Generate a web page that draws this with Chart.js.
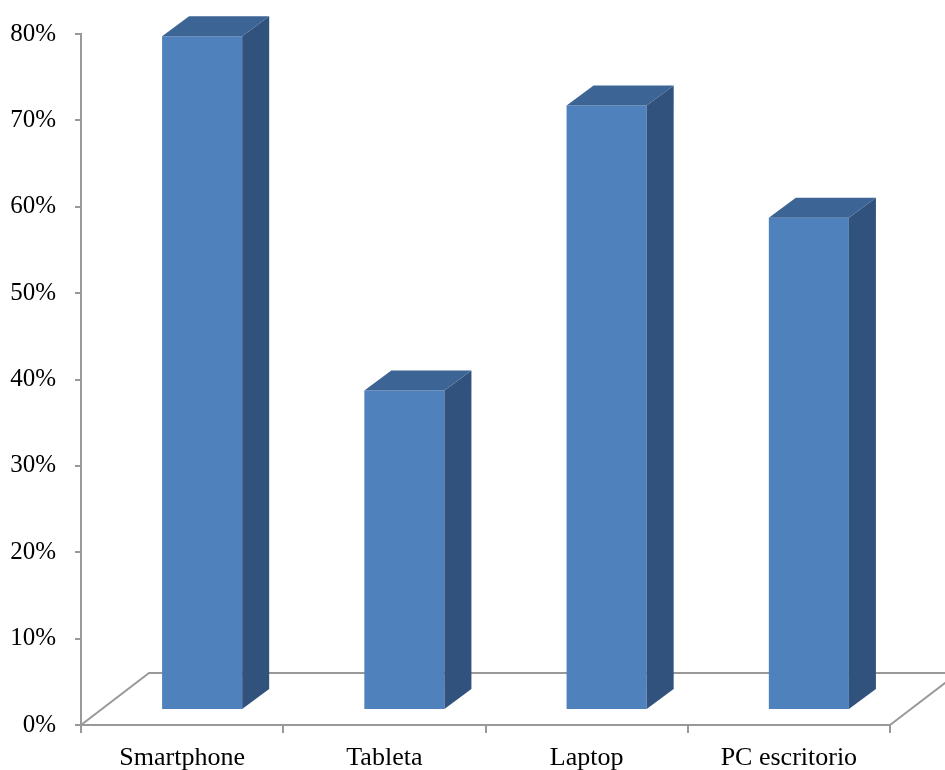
<!DOCTYPE html>
<html>
<head>
<meta charset="utf-8">
<script src="https://cdn.jsdelivr.net/npm/chart.js@4.4.1/dist/chart.umd.min.js"></script>
<style>
  body { margin: 0; background: #ffffff; }
  #wrap { width: 945px; height: 770px; }
</style>
</head>
<body>
<div id="wrap"><canvas id="chart" width="945" height="770"></canvas></div>
<script>
// values (percent)
const categories = ['Smartphone', 'Tableta', 'Laptop', 'PC escritorio'];
const shares = [78, 37, 70, 57];
const yTicks = [0, 10, 20, 30, 40, 50, 60, 70, 80];

const FRONT = '#4F81BD';
const TOP = '#3C6494';
const SIDE = '#32527E';
const LINE = '#999999';
const FONT = "'Liberation Serif', 'Times New Roman', serif";

// fake 3D: floor depth and bar depth (pixels)
const floorDepth = { dx: 68, dy: 52 };
const barShift = { dx: 20, dy: 15 };   // bars sit a bit behind the front edge
const barDepth = { dx: 27, dy: 20 };

const threeD = {
    id: 'threeD',
    beforeDatasetsDraw (chart) {
        const ctx = chart.ctx;
        const a = chart.chartArea;
        ctx.save();
        // floor outline (front edge is the x axis line)
        ctx.strokeStyle = LINE;
        ctx.lineWidth = 2;
        ctx.beginPath();
        ctx.moveTo(a.left, a.bottom);
        ctx.lineTo(a.left + floorDepth.dx, a.bottom - floorDepth.dy);
        ctx.lineTo(a.right + floorDepth.dx, a.bottom - floorDepth.dy);
        ctx.lineTo(a.right, a.bottom);
        ctx.stroke();
        // push the front faces back into the box
        ctx.translate(barShift.dx, -barShift.dy);
    },
    afterDatasetsDraw (chart) {
        const ctx = chart.ctx;
        chart.getDatasetMeta(0).data.forEach(function (bar) {
            const p = bar.getProps(['x', 'y', 'base', 'width'], true);
            const l = p.x - p.width / 2;
            const r = p.x + p.width / 2;
            // side face
            ctx.fillStyle = SIDE;
            ctx.beginPath();
            ctx.moveTo(r, p.y);
            ctx.lineTo(r + barDepth.dx, p.y - barDepth.dy);
            ctx.lineTo(r + barDepth.dx, p.base - barDepth.dy);
            ctx.lineTo(r, p.base);
            ctx.closePath();
            ctx.fill();
            // top face
            ctx.fillStyle = TOP;
            ctx.beginPath();
            ctx.moveTo(l, p.y);
            ctx.lineTo(l + barDepth.dx, p.y - barDepth.dy);
            ctx.lineTo(r + barDepth.dx, p.y - barDepth.dy);
            ctx.lineTo(r, p.y);
            ctx.closePath();
            ctx.fill();
        });
        ctx.restore();
    }
};

new Chart(document.getElementById('chart'), {
    type: 'bar',
    data: {
        labels: categories,
        datasets: [{
            data: shares,
            backgroundColor: FRONT,
            borderWidth: 0,
            categoryPercentage: 1,
            barPercentage: 0.396,
            clip: false
        }]
    },
    options: {
        responsive: false,
        animation: false,
        layout: { padding: { top: 33, right: 55, left: 0, bottom: 0 } },
        plugins: {
            legend: { display: false },
            tooltip: { enabled: false }
        },
        scales: {
            x: {
                grid: { display: true, drawOnChartArea: false, color: LINE, lineWidth: 2, tickLength: 8, offset: true },
                border: { display: true, color: LINE, width: 2 },
                ticks: { color: '#000000', font: { family: FONT, size: 26 }, padding: 10, maxRotation: 0 },
                afterFit (scale) { scale.height = 45; }
            },
            y: {
                min: 0,
                max: 80,
                afterBuildTicks (scale) { scale.ticks = yTicks.map(function (v) { return { value: v }; }); },
                grid: { display: true, drawOnChartArea: false, color: LINE, lineWidth: 2, tickLength: 6 },
                border: { display: true, color: LINE, width: 2 },
                ticks: {
                    color: '#000000',
                    font: { family: FONT, size: 25 },
                    padding: 19,
                    callback: function (v) { return v + '%'; }
                },
                afterFit (scale) { scale.width = 81; }
            }
        }
    },
    plugins: [threeD]
});
</script>
</body>
</html>
